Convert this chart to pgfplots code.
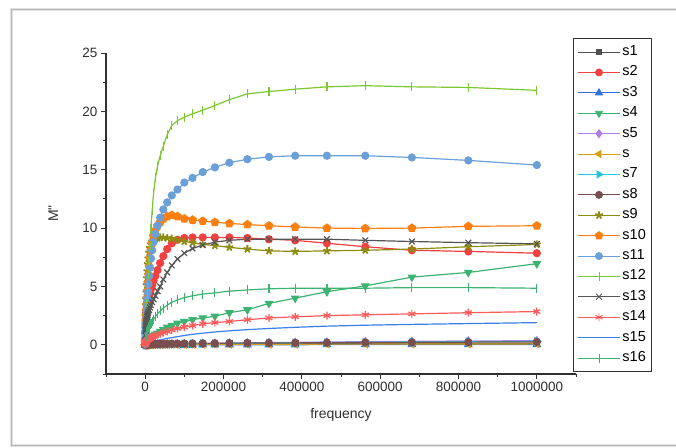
\documentclass[border=0pt]{standalone}
\usepackage{fontspec}
\setmainfont{Liberation Sans}
\usepackage{pgfplots}
\usepackage{pgfplotstable}
\pgfplotsset{compat=1.18}

\definecolor{c1}{HTML}{505050}
\definecolor{c2}{HTML}{F04040}
\definecolor{c3}{HTML}{2F6FE0}
\definecolor{c4}{HTML}{3CB371}
\definecolor{c5}{HTML}{B080E8}
\definecolor{c6}{HTML}{D4A017}
\definecolor{c7}{HTML}{20C8D8}
\definecolor{c8}{HTML}{7A4E4E}
\definecolor{c9}{HTML}{8C8C10}
\definecolor{c10}{HTML}{FF7F10}
\definecolor{c11}{HTML}{6A9FD8}
\definecolor{c12}{HTML}{7CC832}
\definecolor{c13}{HTML}{555555}
\definecolor{c14}{HTML}{FF5A5A}
\definecolor{c15}{HTML}{3A7FE8}
\definecolor{c16}{HTML}{3CB371}
\definecolor{axisgray}{HTML}{303030}

\pgfplotstableread{
f s1 s2 s3 s4 s5 s6 s7 s8 s9 s10 s11 s12 s13 s14 s15 s16
1000000 0.12 7.85 0.03 6.95 0.35 0.08 0.30 0.25 8.6 10.2 15.4 21.8 8.65 2.85 1.9 4.85
825000 0.11 8.0 0.03 6.2 0.33 0.07 0.27 0.23 8.4 10.15 15.8 22.05 8.75 2.75 1.82 4.9
681000 0.11 8.1 0.02 5.8 0.30 0.07 0.24 0.21 8.2 10.0 16.05 22.1 8.85 2.65 1.75 4.9
562000 0.10 8.4 0.02 5.05 0.27 0.06 0.22 0.20 8.1 9.97 16.2 22.2 8.95 2.57 1.68 4.85
464000 0.10 8.7 0.02 4.55 0.24 0.06 0.20 0.18 8.05 10.0 16.2 22.1 9.05 2.5 1.6 4.85
383000 0.09 8.95 0.01 4.0 0.21 0.05 0.18 0.17 8.0 10.1 16.2 21.9 9.05 2.4 1.5 4.85
316000 0.09 9.05 0.01 3.55 0.19 0.05 0.16 0.16 8.05 10.2 16.1 21.7 9.05 2.3 1.4 4.8
261000 0.08 9.15 0.01 3.0 0.17 0.05 0.14 0.15 8.2 10.3 15.9 21.5 9.05 2.15 1.3 4.7
215000 0.08 9.2 0.01 2.75 0.15 0.04 0.13 0.14 8.35 10.4 15.6 21.0 8.95 2.0 1.2 4.6
178000 0.07 9.2 0.01 2.45 0.13 0.04 0.12 0.13 8.5 10.5 15.2 20.5 8.8 1.9 1.1 4.45
147000 0.07 9.2 0.0 2.3 0.12 0.04 0.11 0.12 8.6 10.6 14.8 20.1 8.55 1.8 1.0 4.35
121000 0.06 9.2 0.0 2.15 0.11 0.03 0.10 0.11 8.75 10.7 14.3 19.8 8.25 1.65 0.9 4.2
100000 0.06 9.15 0.0 2.0 0.10 0.03 0.09 0.10 8.85 10.8 13.9 19.5 7.85 1.52 0.8 4.05
82500 0.05 9.0 0.0 1.85 0.09 0.03 0.08 0.10 9.0 11.0 13.3 19.2 7.35 1.4 0.7 3.85
68100 0.05 8.7 0.0 1.65 0.08 0.03 0.07 0.09 9.1 11.1 12.8 18.8 6.8 1.27 0.62 3.65
56200 0.05 8.2 0.0 1.5 0.07 0.02 0.07 0.08 9.15 11.0 12.2 18.0 6.2 1.15 0.55 3.4
46400 0.04 7.6 0.0 1.3 0.07 0.02 0.06 0.08 9.2 10.8 11.6 17.0 5.6 1.05 0.48 3.15
38300 0.04 7.0 0.0 1.15 0.06 0.02 0.06 0.07 9.2 10.5 10.9 16.2 5.0 0.96 0.43 2.9
31600 0.04 6.4 0.0 1.0 0.06 0.02 0.05 0.07 9.15 10.2 10.2 15.3 4.6 0.88 0.38 2.65
26100 0.03 5.9 0.0 0.9 0.05 0.02 0.05 0.06 9.1 9.8 9.5 14.3 4.2 0.8 0.34 2.4
21500 0.03 5.5 0.0 0.8 0.05 0.02 0.04 0.06 9.0 9.3 8.8 13.0 3.9 0.72 0.3 2.2
17800 0.03 5.1 0.0 0.7 0.05 0.01 0.04 0.05 8.85 8.7 8.1 11.5 3.65 0.66 0.27 2.0
14700 0.03 4.75 0.0 0.62 0.04 0.01 0.04 0.05 8.6 8.1 7.4 10.0 3.4 0.6 0.24 1.85
12100 0.02 4.45 0.0 0.55 0.04 0.01 0.03 0.05 8.3 7.4 6.6 8.5 3.2 0.55 0.22 1.7
10000 0.02 4.2 0.0 0.5 0.04 0.01 0.03 0.04 7.9 6.7 5.9 7.2 3.0 0.5 0.2 1.55
8250 0.02 4.0 0.0 0.49 0.03 0.01 0.03 0.04 7.4 6.0 5.2 6.0 2.85 0.47 0.18 1.45
6810 0.02 3.8 0.0 0.47 0.03 0.01 0.03 0.04 6.9 5.3 4.5 5.0 2.7 0.44 0.16 1.35
5620 0.02 3.6 0.0 0.45 0.03 0.01 0.02 0.03 6.3 4.6 3.9 4.2 2.55 0.41 0.14 1.25
4640 0.02 3.4 0.0 0.42 0.03 0.01 0.02 0.03 5.7 4.0 3.3 3.5 2.4 0.38 0.12 1.15
3830 0.01 3.2 0.0 0.39 0.02 0.01 0.02 0.03 5.1 3.4 2.8 2.9 2.2 0.35 0.11 1.05
3160 0.01 3.0 0.0 0.36 0.02 0.0 0.02 0.03 4.5 2.9 2.3 2.4 2.05 0.32 0.1 0.95
2610 0.01 2.75 0.0 0.33 0.02 0.0 0.02 0.02 3.9 2.4 1.9 2.0 1.9 0.29 0.09 0.85
2150 0.01 2.5 0.0 0.3 0.02 0.0 0.01 0.02 3.4 2.0 1.6 1.6 1.75 0.26 0.08 0.75
1780 0.01 2.25 0.0 0.28 0.02 0.0 0.01 0.02 2.9 1.7 1.3 1.3 1.6 0.23 0.07 0.65
1470 0.01 2.0 0.0 0.25 0.01 0.0 0.01 0.02 2.5 1.4 1.05 1.1 1.45 0.2 0.06 0.55
1210 0.01 1.8 0.0 0.22 0.01 0.0 0.01 0.02 2.1 1.1 0.85 0.9 1.3 0.17 0.05 0.45
1000 0.01 1.6 0.0 0.2 0.01 0.0 0.01 0.01 1.8 0.9 0.7 0.7 1.2 0.15 0.05 0.4
500 0.0 1.0 0.0 0.1 0.01 0.0 0.0 0.01 1.0 0.45 0.35 0.35 0.8 0.08 0.02 0.2
100 0.0 0.3 0.0 0.02 0.0 0.0 0.0 0.0 0.3 0.1 0.1 0.1 0.3 0.02 0.0 0.05
}\datatable

\begin{document}
\begin{tikzpicture}
\useasboundingbox (0,0) rectangle (676bp,448bp);
\fill[white] (0,0) rectangle (676bp,448bp);
\draw[black!12, line width=3bp] (11.5bp,2bp) rectangle (700bp,438.5bp);
\draw[black!28, line width=1bp] (11.5bp,2.5bp) rectangle (700bp,438bp);
\begin{axis}[
  at={(106bp,74bp)}, anchor=south west,
  scale only axis, width=470bp, height=321bp,
  xmin=-100000, xmax=1100000, ymin=-2.5, ymax=25,
  axis x line*=bottom, axis y line*=left,
  axis line style={axisgray, line width=1.1bp},
  every tick/.style={axisgray, line width=0.9bp},
  tick align=outside, major tick length=5bp, minor tick length=3bp,
  xtick={0,200000,400000,600000,800000,1000000},
  minor xtick={-100000,100000,300000,500000,700000,900000,1100000},
  ytick={0,5,10,15,20,25},
  minor ytick={-2.5,2.5,7.5,12.5,17.5,22.5},
  scaled x ticks=false,
  xticklabel style={/pgf/number format/fixed, /pgf/number format/1000 sep={}},
  /pgf/number format/assume math mode=true,
  ticklabel style={font=\fontsize{13.5bp}{15bp}\selectfont, text=axisgray},
  xlabel={frequency}, ylabel={M\textquotedbl},
  label style={font=\fontsize{14bp}{16bp}\selectfont, text=axisgray},
  xlabel style={at={(axis description cs:0.5,-0.128)}, anchor=center},
  ylabel style={at={(axis description cs:-0.112,0.5)}, anchor=center},
  clip=false,
  every axis plot/.append style={line width=1.2bp, mark size=3.5bp},
  legend cell align=left,
  legend image code/.code={\draw[mark repeat=2,mark phase=2,#1,line width=0.9bp] plot coordinates {(0bp,0bp) (21bp,0bp) (42bp,0bp)};},
  legend style={at={(0.9936,1.0467)}, anchor=north west,
    draw=axisgray, line width=1.1bp, inner xsep=4bp, inner ysep=5bp,
    font=\fontsize{14.5bp}{16bp}\selectfont,
    row sep=3.4bp,
    nodes={inner sep=2bp, text height=10bp, text depth=3bp}},
]
\addplot[c1, mark=square*, mark size=2.8bp] table[x=f,y=s1] {\datatable};
\addlegendentry{s1}
\addplot[c2, mark=*] table[x=f,y=s2] {\datatable};
\addlegendentry{s2}
\addplot[c3, mark=triangle*, mark size=4bp] table[x=f,y=s3] {\datatable};
\addlegendentry{s3}
\addplot[c4, mark=triangle*, mark size=4bp, mark options={rotate=180}] table[x=f,y=s4] {\datatable};
\addlegendentry{s4}
\addplot[c5, mark=diamond*, mark size=4bp] table[x=f,y=s5] {\datatable};
\addlegendentry{s5}
\addplot[c6, mark=triangle*, mark size=4bp, mark options={rotate=90}] table[x=f,y=s6] {\datatable};
\addlegendentry{s}
\addplot[c7, mark=triangle*, mark size=4bp, mark options={rotate=-90}] table[x=f,y=s7] {\datatable};
\addlegendentry{s7}
\addplot[c8, mark=*] table[x=f,y=s8] {\datatable};
\addlegendentry{s8}
\addplot[c9, mark=star, mark size=4bp, mark options={line width=1.8bp}] table[x=f,y=s9] {\datatable};
\addlegendentry{s9}
\addplot[c10, mark=pentagon*, mark size=4bp] table[x=f,y=s10] {\datatable};
\addlegendentry{s10}
\addplot[c11, mark=*] table[x=f,y=s11] {\datatable};
\addlegendentry{s11}
\addplot[c12, mark=|, mark size=4.5bp] table[x=f,y=s12] {\datatable};
\addlegendentry{s12}
\addplot[c13, mark=x, mark size=4bp] table[x=f,y=s13] {\datatable};
\addlegendentry{s13}
\addplot[c14, mark=asterisk, mark size=4bp] table[x=f,y=s14] {\datatable};
\addlegendentry{s14}
\addplot[c15, no marks] table[x=f,y=s15] {\datatable};
\addlegendentry{s15}
\addplot[c16, mark=|, mark size=4.5bp] table[x=f,y=s16] {\datatable};
\addlegendentry{s16}
\end{axis}
\end{tikzpicture}
\end{document}
